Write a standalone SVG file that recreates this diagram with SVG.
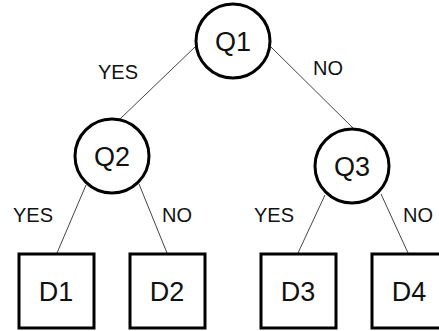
<svg xmlns="http://www.w3.org/2000/svg" width="439" height="331" viewBox="0 0 439 331">
<style>
.n{fill:#fff;stroke:#000;stroke-width:3}
.t{font-family:"Liberation Sans",Arial,sans-serif;font-size:27px;fill:#111;text-anchor:middle}
.l{font-family:"Liberation Sans",Arial,sans-serif;font-size:20px;fill:#111;text-anchor:middle}
.c{stroke:#444;stroke-width:1;fill:none}
</style>
<rect width="439" height="331" fill="#fff"/>
<g id="connectors">
<line class="c" x1="196" y1="46" x2="120" y2="119"/>
<line class="c" x1="270" y1="46" x2="354" y2="129"/>
<line class="c" x1="86" y1="185" x2="57" y2="253"/>
<line class="c" x1="139" y1="184" x2="167" y2="253"/>
<line class="c" x1="325" y1="195" x2="298" y2="253"/>
<line class="c" x1="381" y1="194" x2="408" y2="253"/>
</g>
<g id="labels">
<text class="l" x="118" y="79">YES</text>
<text class="l" x="328" y="75">NO</text>
<text class="l" x="33" y="222">YES</text>
<text class="l" x="177" y="222">NO</text>
<text class="l" x="274" y="222">YES</text>
<text class="l" x="418" y="222">NO</text>
</g>
<g id="Q1"><circle class="n" cx="233" cy="41" r="37"/><text class="t" x="233" y="51">Q1</text></g>
<g id="Q2"><circle class="n" cx="112" cy="156" r="37"/><text class="t" x="112" y="166">Q2</text></g>
<g id="Q3"><circle class="n" cx="352" cy="166" r="37"/><text class="t" x="352" y="176">Q3</text></g>
<g id="D1"><rect class="n" x="19" y="254" width="75" height="74"/><text class="t" x="56" y="301">D1</text></g>
<g id="D2"><rect class="n" x="130" y="254" width="75" height="74"/><text class="t" x="167" y="301">D2</text></g>
<g id="D3"><rect class="n" x="261" y="254" width="75" height="74"/><text class="t" x="298" y="301">D3</text></g>
<g id="D4"><rect class="n" x="372" y="254" width="75" height="74"/><text class="t" x="409" y="301">D4</text></g>
</svg>
